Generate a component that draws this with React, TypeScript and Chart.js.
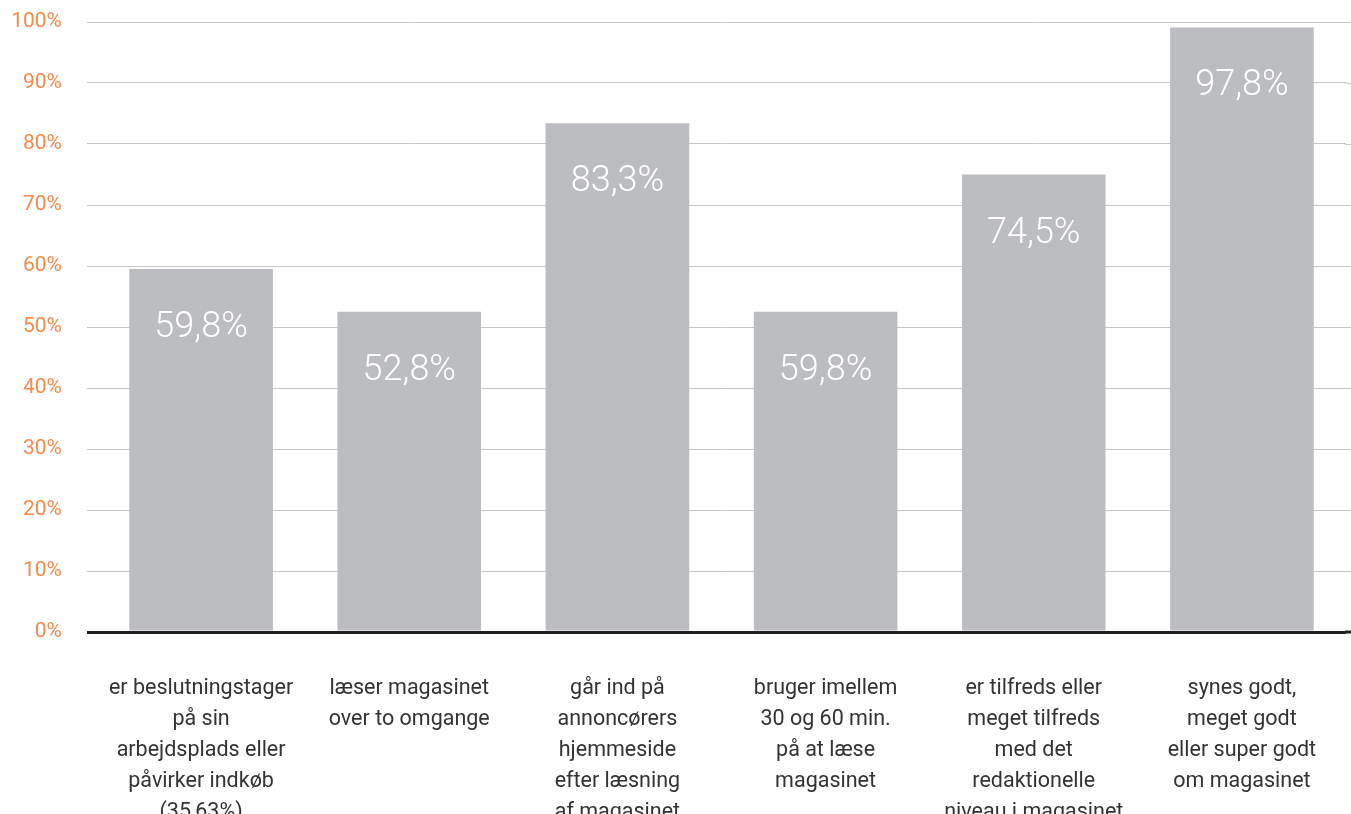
import React, { useEffect, useRef } from "react";
import { Chart, registerables } from "chart.js";

Chart.register(...registerables);

const categories: string[][] = [
  ["er beslutningstager", "på sin", "arbejdsplads eller", "påvirker indkøb", "(35,63%)"],
  ["læser magasinet", "over to omgange"],
  ["går ind på", "annoncørers", "hjemmeside", "efter læsning", "af magasinet"],
  ["bruger imellem", "30 og 60 min.", "på at læse", "magasinet"],
  ["er tilfreds eller", "meget tilfreds", "med det", "redaktionelle", "niveau i magasinet"],
  ["synes godt,", "meget godt", "eller super godt", "om magasinet"],
];
const barValues: number[] = [59.5, 52.5, 83.4, 52.5, 75.0, 99.1];
const barLabels: string[] = ["59,8%", "52,8%", "83,3%", "59,8%", "74,5%", "97,8%"];
const yTicks: number[] = [0, 10, 20, 30, 40, 50, 60, 70, 80, 90, 100];

const FONT = "Roboto, 'Open Sans', sans-serif";

const barLabelPlugin = {
  id: "barLabels",
  beforeDatasetsDraw(chart: any) {
    // extend grid lines to the right edge of the canvas
    const ctx = chart.ctx;
    const y = chart.scales.y;
    const area = chart.chartArea;
    ctx.save();
    y.ticks.forEach((t: any) => {
      const py = y.getPixelForValue(t.value);
      const zero = t.value === 0;
      ctx.strokeStyle = zero ? "#231f20" : "#c8c8c8";
      ctx.lineWidth = zero ? 3 : 1;
      const yy = Math.round(py) + (zero ? 0 : 0.5);
      ctx.beginPath();
      ctx.moveTo(area.right - 1, yy);
      ctx.lineTo(chart.width, yy);
      ctx.stroke();
    });
    ctx.restore();
  },
  afterDatasetsDraw(chart: any) {
    const ctx = chart.ctx;
    const meta = chart.getDatasetMeta(0);
    ctx.save();
    ctx.fillStyle = "#ffffff";
    ctx.font = `300 36px ${FONT}`;
    ctx.textAlign = "center";
    ctx.textBaseline = "middle";
    meta.data.forEach((bar: any, i: number) => {
      ctx.fillText(barLabels[i], bar.x, bar.y + 59);
    });
    ctx.restore();
  },
};

export default function App() {
  const ref = useRef<HTMLCanvasElement | null>(null);
  useEffect(() => {
    document.body.style.margin = "0";
    if (!ref.current) return;
    const chart = new Chart(ref.current, {
      type: "bar",
      data: {
        labels: categories,
        datasets: [
          {
            data: barValues,
            backgroundColor: "#bcbdc1",
            borderWidth: 0,
            barPercentage: 0.69,
            categoryPercentage: 1,
          },
        ],
      },
      options: {
        animation: false,
        responsive: false,
        devicePixelRatio: 1,
        layout: { padding: { top: 22, right: 5, left: 0, bottom: 0 } },
        plugins: { legend: { display: false }, tooltip: { enabled: false } },
        scales: {
          x: {
            grid: { display: false, drawTicks: false },
            border: { display: false },
            ticks: {
              color: "#333333",
              font: { family: FONT, size: 21.5, lineHeight: 1.44 },
              padding: 41,
              maxRotation: 0,
              autoSkip: false,
            },
            afterFit(scale: any) {
              scale.height = 182;
              scale.paddingLeft = 0;
              scale.paddingRight = 0;
            },
          },
          y: {
            min: 0,
            max: 100,
            afterBuildTicks(scale: any) {
              scale.ticks = yTicks.map((v) => ({ value: v }));
            },
            grid: {
              color: (c: any) => (c.tick && c.tick.value === 0 ? "#231f20" : "#c8c8c8"),
              lineWidth: (c: any) => (c.tick && c.tick.value === 0 ? 3 : 1),
              tickLength: 10,
              drawTicks: true,
            },
            border: { display: false },
            ticks: {
              color: "#f58a4b",
              font: { family: FONT, size: 21 },
              padding: 25,
              callback: (v: any) => `${v}%`,
            },
            afterFit(scale: any) {
              scale.width = 97;
              scale.paddingTop = 0;
              scale.paddingBottom = 0;
            },
          },
        },
      },
      plugins: [barLabelPlugin],
    });
    return () => chart.destroy();
  }, []);
  return (
    <div style={{ position: "fixed", left: 0, top: 0, width: 1351, height: 814, background: "#ffffff" }}>
      <canvas ref={ref} width={1351} height={814} />
    </div>
  );
}
